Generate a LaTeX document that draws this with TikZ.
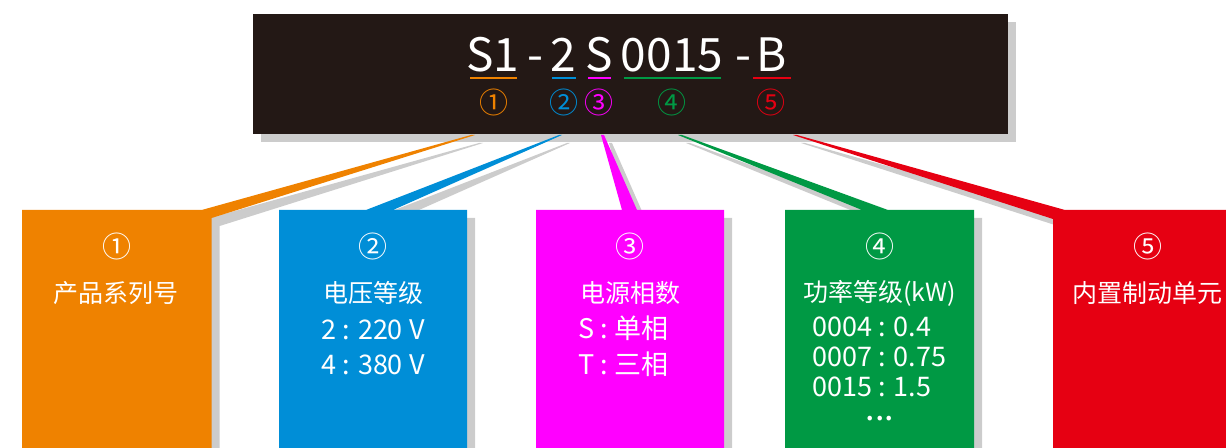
\documentclass[tikz,border=0pt]{standalone}
\usepackage{fontspec}
\setmainfont{Noto Sans CJK SC}
\usetikzlibrary{shadows}

\definecolor{barbg}{RGB}{35,24,21}
\definecolor{cOrange}{RGB}{239,130,0}
\definecolor{cBlue}{RGB}{0,142,215}
\definecolor{cMagenta}{RGB}{255,0,255}
\definecolor{cGreen}{RGB}{0,153,68}
\definecolor{cRed}{RGB}{230,0,18}

\begin{document}
\begin{tikzpicture}[x=0.5pt, y=-0.5pt,
    drop/.style={drop shadow={shadow xshift=4pt, shadow yshift=-4pt, opacity=0.2, fill=black}},
    code/.style={text=white, font=\fontsize{23}{26}\selectfont, anchor=base, inner sep=0pt},
    num/.style={font=\fontsize{14.5}{16}\selectfont, inner sep=0pt},
    txt/.style={text=white, font=\fontsize{12.5}{15}\selectfont, inner sep=0pt},
    val/.style={text=white, font=\fontsize{13.5}{16}\selectfont, inner sep=0pt},
    uline/.style={line width=0.8pt}]
    \useasboundingbox (0,0) rectangle (1226,448);
    \clip (0,0) rectangle (1226,448);

    % Model code bar
    \fill[barbg, drop] (253,14) rectangle (1008,134);
    \node[code] (s1) at (493,72) {S1};
    \node[code] (d1) at (535,72) {-};
    \node[code] (s2) at (563,72) {2};
    \node[code] (s3) at (599,72) {S};
    \node[code] (s4) at (672,72) {0015};
    \node[code] (d2) at (743,72) {-};
    \node[code] (s5) at (772,72) {B};

    \draw[uline, cOrange] (470,78) -- (517,78);
    \draw[uline, cBlue] (552,78) -- (576,78);
    \draw[uline, cMagenta] (588,78) -- (611,78);
    \draw[uline, cGreen] (624,78) -- (721,78);
    \draw[uline, cRed] (753,78) -- (791,78);

    \node[num, text=cOrange] (c1) at (494,102) {①};
    \node[num, text=cBlue] (c2) at (564,102) {②};
    \node[num, text=cMagenta] (c3) at (599,102) {③};
    \node[num, text=cGreen] (c4) at (672,102) {④};
    \node[num, text=cRed] (c5) at (771,102) {⑤};

    % Callout boxes with their pointers
    \fill[cOrange, drop] (471,135) -- (201.7,210) -- (22,210) -- (22,470)
        -- (211.7,470) -- (211.7,218) -- (475,135) -- cycle;
    \fill[cBlue, drop] (559,135) -- (366,210) -- (279,210) -- (279,470)
        -- (467,470) -- (467,210) -- (393,210) -- (562,135) -- cycle;
    \fill[cMagenta, drop] (601,135) -- (622,210) -- (536,210) -- (536,470)
        -- (724,470) -- (724,210) -- (637,210) -- (604,135) -- cycle;
    \fill[cGreen, drop] (678,135) -- (862,210) -- (785,210) -- (785,470)
        -- (974,470) -- (974,210) -- (888,210) -- (682,135) -- cycle;
    \fill[cRed, drop] (797,135) -- (1065,210) -- (1242,210) -- (1242,470)
        -- (1053,470) -- (1053,219) -- (793,135) -- cycle;

    % Box texts
    \node[num, text=white] (b1) at (116.5,246) {①};
    \node[txt] (t1) at (116.5,293) {产品系列号};

    \node[num, text=white] (b2) at (373,246) {②};
    \node[txt] (t2) at (373,293) {电压等级};
    \node[val] (v21) at (373,330) {2 : 220 V};
    \node[val] (v22) at (373,365) {4 : 380 V};

    \node[num, text=white] (b3) at (630,246) {③};
    \node[txt] (t3) at (630,293) {电源相数};
    \node[val, anchor=west] (v31) at (578,328) {S : 单相};
    \node[val, anchor=west] (v32) at (578,364) {T : 三相};

    \node[num, text=white] (b4) at (879.5,246) {④};
    \node[txt] (t4) at (879.5,293) {功率等级(kW)};
    \node[val, anchor=west] (v41) at (812,327) {0004 : 0.4};
    \node[val, anchor=west] (v42) at (812,357) {0007 : 0.75};
    \node[val, anchor=west] (v43) at (812,387) {0015 : 1.5};
    \node[text=white, font=\fontsize{17}{18}\selectfont, inner sep=0pt] (v44) at (880,419) {...};

    \node[num, text=white] (b5) at (1147.5,246) {⑤};
    \node[txt] (t5) at (1147.5,293) {内置制动单元};
\end{tikzpicture}
\end{document}
